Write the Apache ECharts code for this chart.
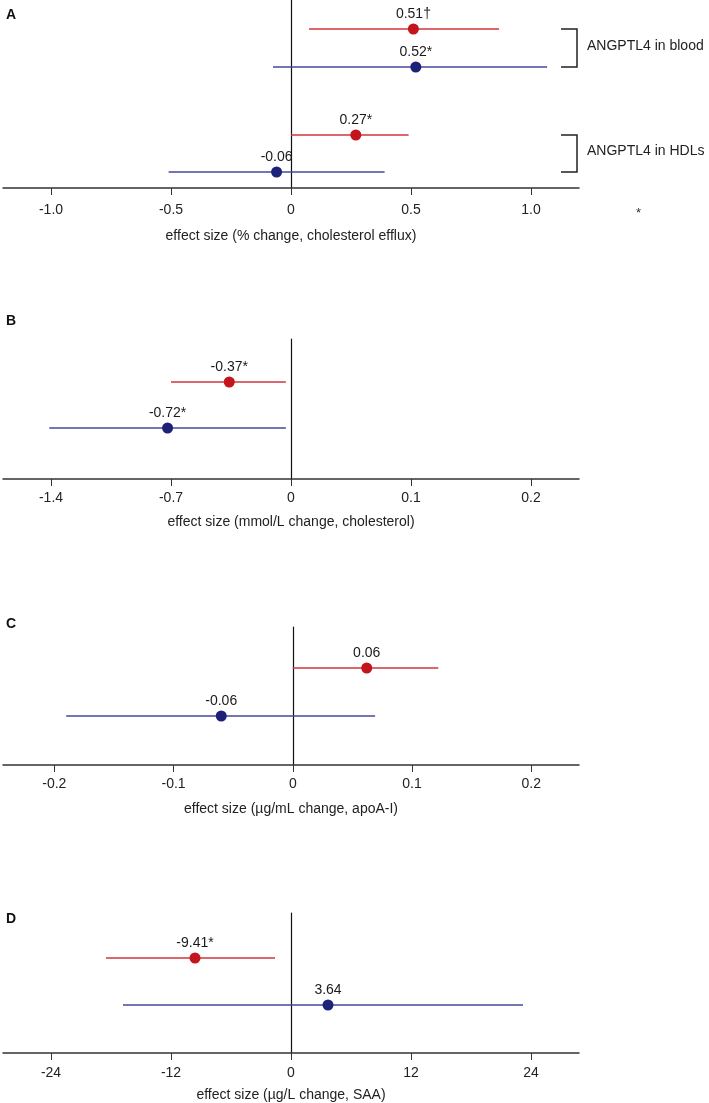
<!DOCTYPE html>
<html>
<head>
<meta charset="utf-8">
<script src="https://cdn.jsdelivr.net/npm/echarts@6/dist/echarts.min.js"></script>
<style>
html,body{margin:0;padding:0;background:#fff;}
#chart{width:709px;height:1103px;}
</style>
</head>
<body>
<div id="chart"></div>
<script>
// ---------------- DATA ----------------
// Panel A: effect size (% change, cholesterol efflux)
const aLabels = ['0.51†', '0.52*', '0.27*', '-0.06'];
const aEst    = [0.51, 0.52, 0.27, -0.06];
const aLow    = [0.075, -0.075, 0.0, -0.51];
const aHigh   = [0.867, 1.067, 0.49, 0.39];
const aGroup  = ['red', 'blue', 'red', 'blue'];
const aTicks  = [-1.0, -0.5, 0, 0.5, 1.0];
const aTickLabels = ['-1.0', '-0.5', '0', '0.5', '1.0'];
const aBrackets = ['ANGPTL4 in blood', 'ANGPTL4 in HDLs'];

// Panel B: effect size (mmol/L change, cholesterol) — broken axis (negative side compressed 7x)
const bLabels = ['-0.37*', '-0.72*'];
const bEst    = [-0.36, -0.72];
const bLow    = [-0.70, -1.41];
const bHigh   = [-0.03, -0.03];
const bGroup  = ['red', 'blue'];
const bTicks  = [-1.4, -0.7, 0, 0.1, 0.2];
const bTickLabels = ['-1.4', '-0.7', '0', '0.1', '0.2'];

// Panel C: effect size (µg/mL change, apoA-I)
const cLabels = ['0.06', '-0.06'];
const cEst    = [0.062, -0.06];
const cLow    = [0.0, -0.19];
const cHigh   = [0.122, 0.069];
const cGroup  = ['red', 'blue'];
const cTicks  = [-0.2, -0.1, 0, 0.1, 0.2];
const cTickLabels = ['-0.2', '-0.1', '0', '0.1', '0.2'];

// Panel D: effect size (µg/L change, SAA)
const dLabels = ['-9.41*', '3.64'];
const dEst    = [-9.6, 3.7];
const dLow    = [-18.5, -16.8];
const dHigh   = [-1.6, 23.2];
const dGroup  = ['red', 'blue'];
const dTicks  = [-24, -12, 0, 12, 24];
const dTickLabels = ['-24', '-12', '0', '12', '24'];

const axisTitles = [
  'effect size (% change, cholesterol efflux)',
  'effect size (mmol/L change, cholesterol)',
  'effect size (µg/mL change, apoA-I)',
  'effect size (µg/L change, SAA)'
];
const panelLetters = ['A', 'B', 'C', 'D'];

// ---------------- LAYOUT / STYLE ----------------
const FONT = '"Liberation Sans", Arial, sans-serif';
const COLORS = {
  red:  {dot: '#c4141c', line: '#d0353d'},
  blue: {dot: '#1d2279', line: '#44489a'}
};
const GRID_LEFT = 3, GRID_W = 576;
const grids = [
  {top: 0,   height: 188},
  {top: 339, height: 140},
  {top: 627, height: 138},
  {top: 913, height: 140}
];
// row positions (pixels above axis) for each panel
const rowPos = [
  [159, 121, 53, 16],
  [97, 51],
  [97, 49],
  [95, 48]
];
const xRange = [
  [-1.2, 1.2],
  [-0.24, 0.24],
  [-0.243, 0.24],
  [-28.8, 28.8]
];
const labelMargin = [15, 12, 12, 13];
const nameGap = [40, 35, 36, 34];
const letterTop = [8, 314, 617, 912];
// panel B broken-axis transform: negative side compressed by factor 7
const bScale = v => (v < 0 ? v / 7 : v);
const identity = v => v;
const transforms = [identity, bScale, identity, identity];

const panels = [
  {labels: aLabels, est: aEst, low: aLow, high: aHigh, group: aGroup, ticks: aTicks, tickLabels: aTickLabels},
  {labels: bLabels, est: bEst, low: bLow, high: bHigh, group: bGroup, ticks: bTicks, tickLabels: bTickLabels},
  {labels: cLabels, est: cEst, low: cLow, high: cHigh, group: cGroup, ticks: cTicks, tickLabels: cTickLabels},
  {labels: dLabels, est: dEst, low: dLow, high: dHigh, group: dGroup, ticks: dTicks, tickLabels: dTickLabels}
];

const option = {
  animation: false,
  backgroundColor: '#ffffff',
  grid: [], xAxis: [], yAxis: [], series: [], graphic: []
};

panels.forEach((p, i) => {
  const t = transforms[i];
  const g = grids[i];
  option.grid.push({left: GRID_LEFT, width: GRID_W, top: g.top, height: g.height, containLabel: false});
  const tickVals = p.ticks.map(t);
  option.xAxis.push({
    type: 'value', gridIndex: i,
    min: xRange[i][0], max: xRange[i][1],
    splitLine: {show: false},
    axisLine: {show: true, onZero: false, lineStyle: {color: '#333', width: 1.5}},
    axisTick: {show: true, length: 7, inside: false, customValues: tickVals, lineStyle: {color: '#333', width: 1}},
    axisLabel: {
      show: true, customValues: tickVals, margin: labelMargin[i], fontSize: 14, color: '#222', fontFamily: FONT,
      formatter: v => {
        const k = tickVals.findIndex(x => Math.abs(x - v) < 1e-9);
        return k >= 0 ? p.tickLabels[k] : '';
      }
    },
    name: axisTitles[i], nameLocation: 'middle', nameGap: nameGap[i] + 1,
    nameTextStyle: {fontSize: 14, color: '#222', fontFamily: FONT}
  });
  option.yAxis.push({
    type: 'value', gridIndex: i, min: 0, max: g.height,
    splitLine: {show: false},
    axisLine: {show: true, onZero: true, lineStyle: {color: '#111', width: 1.2}},
    axisTick: {show: false}, axisLabel: {show: false}
  });
  // confidence interval lines
  option.series.push({
    type: 'custom', xAxisIndex: i, yAxisIndex: i, z: 3,
    data: p.est.map((e, k) => [t(p.low[k]), t(p.high[k]), rowPos[i][k], k]),
    renderItem: (params, api) => {
      const k = api.value(3);
      const a = api.coord([api.value(0), api.value(2)]);
      const b = api.coord([api.value(1), api.value(2)]);
      return {type: 'line', shape: {x1: a[0], y1: a[1], x2: b[0], y2: b[1]},
        style: {stroke: COLORS[p.group[k]].line, lineWidth: 1.6}};
    }
  });
  // point estimates
  option.series.push({
    type: 'scatter', xAxisIndex: i, yAxisIndex: i, z: 4, symbolSize: 11,
    data: p.est.map((e, k) => ({
      value: [t(e), rowPos[i][k]],
      itemStyle: {color: COLORS[p.group[k]].dot, opacity: 1},
      label: {show: true, position: 'top', distance: 2, formatter: p.labels[k],
        fontSize: 14, color: '#1a1a1a', fontFamily: FONT}
    }))
  });
  // panel letter
  option.graphic.push({
    type: 'text', left: 6, top: letterTop[i],
    style: {text: panelLetters[i], font: 'bold 14px "Liberation Sans", Arial, sans-serif', fill: '#111'}
  });
});

// Brackets for panel A
const bracketPairs = [[0, 1], [2, 3]];
bracketPairs.forEach((pair, j) => {
  const yTop = grids[0].top + grids[0].height - rowPos[0][pair[0]];
  const yBot = grids[0].top + grids[0].height - rowPos[0][pair[1]];
  option.graphic.push({
    type: 'polyline',
    shape: {points: [[561, yTop], [577, yTop], [577, yBot], [561, yBot]]},
    style: {stroke: '#222', lineWidth: 1.5, fill: null}
  });
  option.graphic.push({
    type: 'text', left: 587, top: (yTop + yBot) / 2 - 9,
    style: {text: aBrackets[j], font: '14px "Liberation Sans", Arial, sans-serif', fill: '#222'}
  });
});
// stray asterisk in panel A
option.graphic.push({
  type: 'text', left: 636, top: 207,
  style: {text: '*', font: '13px "Liberation Sans", Arial, sans-serif', fill: '#333'}
});

const chart = echarts.init(document.getElementById('chart'), null, {renderer: 'canvas'});
chart.setOption(option);
</script>
</body>
</html>
